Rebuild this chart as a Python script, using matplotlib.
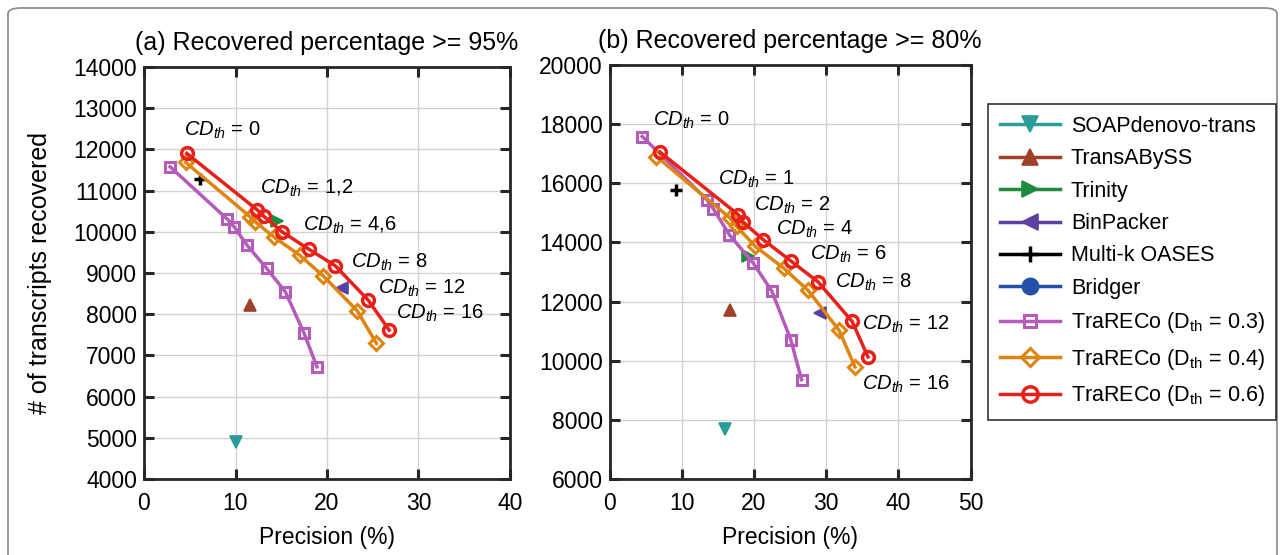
import numpy as np
import matplotlib.pyplot as plt
from matplotlib.patches import FancyBboxPatch

plt.rcParams['font.family'] = ['Liberation Sans', 'DejaVu Sans']
plt.rcParams['mathtext.fontset'] = 'custom'
plt.rcParams['mathtext.rm'] = 'Liberation Sans'
plt.rcParams['mathtext.it'] = 'Liberation Sans:italic'

# ---- data (a) recovered >= 95%
a_prec_03 = [2.85, 9.1, 9.85, 11.25, 13.4, 15.45, 17.5, 18.9]
a_rec_03 = [11578, 10308, 10122, 9677, 9112, 8544, 7534, 6723]
a_prec_04 = [4.56, 11.6, 12.16, 14.16, 17.0, 19.57, 23.3, 25.4]
a_rec_04 = [11684, 10364, 10243, 9879, 9434, 8932, 8083, 7291]
a_prec_06 = [4.67, 12.4, 13.07, 15.08, 18.0, 20.9, 24.5, 26.8]
a_rec_06 = [11903, 10527, 10381, 10000, 9580, 9175, 8342, 7614]
a_others = {'SOAPdenovo-trans': (10.0, 4910), 'TransABySS': (11.6, 8221),
            'Trinity': (14.5, 10267), 'BinPacker': (21.6, 8641),
            'Multi-k OASES': (6.1, 11272), 'Bridger': (np.nan, np.nan)}

# ---- data (b) recovered >= 80%
b_prec_03 = [4.54, 13.5, 14.4, 16.6, 19.9, 22.5, 25.1, 26.6]
b_rec_03 = [17581, 15443, 15128, 14260, 13304, 12345, 10713, 9361]
b_prec_04 = [6.5, 16.7, 17.6, 20.2, 24.1, 27.5, 31.8, 34.0]
b_rec_04 = [16905, 14824, 14541, 13865, 13135, 12378, 11027, 9790]
b_prec_06 = [7.0, 17.85, 18.5, 21.3, 25.2, 28.9, 33.6, 35.8]
b_rec_06 = [17054, 14936, 14689, 14091, 13358, 12662, 11331, 10128]
b_others = {'SOAPdenovo-trans': (16.0, 7680), 'TransABySS': (16.7, 11720),
            'Trinity': (19.2, 13527), 'BinPacker': (29.2, 11615),
            'Multi-k OASES': (9.2, 15781), 'Bridger': (np.nan, np.nan)}

a_labels = ['0', '1,2', '4,6', '8', '12', '16']
a_lab_x = [4.4, 12.7, 17.4, 22.6, 25.6, 27.5]
a_lab_y = [12470, 11050, 10160, 9260, 8630, 8020]
b_labels = ['0', '1', '2', '4', '6', '8', '12', '16']
b_lab_x = [6.0, 15.0, 20.0, 23.1, 27.8, 31.2, 35.0, 35.0]
b_lab_y = [18140, 16120, 15270, 14430, 13580, 12640, 11220, 9190]

styles = {
    'SOAPdenovo-trans': dict(color='#2a9d9a', marker='v'),
    'TransABySS': dict(color='#a0402a', marker='^'),
    'Trinity': dict(color='#1e8a3e', marker='>'),
    'BinPacker': dict(color='#5b3fa3', marker='<'),
    'Multi-k OASES': dict(color='black', marker='+'),
    'Bridger': dict(color='#2350a8', marker='o'),
}
c03, c04, c06 = '#b35cba', '#de8410', '#e8201a'

fig = plt.figure(figsize=(12.85, 5.55), dpi=100)
fig.patches.append(FancyBboxPatch((8/1285, -0.05), 1269/1285, 1.0 - 8/555 + 0.05,
                                  boxstyle='round,pad=0,rounding_size=0.01',
                                  transform=fig.transFigure, fill=False,
                                  ec='#888888', lw=1.2))
ax1 = fig.add_axes([144/1285, 1-479/555, 366/1285, 412/555])
ax2 = fig.add_axes([609.5/1285, 1-479/555, 361/1285, 414/555])


def draw(ax, others, p03, r03, p04, r04, p06, r06, labs, lx, ly):
    for name, (px, py) in others.items():
        st = styles[name]
        ms = 9 if st['marker'] == '+' else 9
        mew = 2.5 if st['marker'] == '+' else 1.2
        ax.plot([px], [py], ls='-', lw=2.5, color=st['color'], marker=st['marker'],
                ms=ms, mew=mew, mec=st['color'], mfc=st['color'], label=name)
    ax.plot(p03, r03, '-s', color=c03, lw=2.5, ms=7, mfc='none', mew=2.2,
            label='TraRECo (D$_{\\mathrm{th}}$ = 0.3)')
    ax.plot(p04, r04, '-D', color=c04, lw=2.5, ms=7, mfc='none', mew=2.2,
            label='TraRECo (D$_{\\mathrm{th}}$ = 0.4)')
    ax.plot(p06, r06, '-o', color=c06, lw=2.5, ms=8.5, mfc='none', mew=2.5,
            label='TraRECo (D$_{\\mathrm{th}}$ = 0.6)')
    for t, x, y in zip(labs, lx, ly):
        ax.text(x, y, '$CD_{th}$ = ' + t, fontsize=14.5, va='center', ha='left')
    ax.grid(True, color='#d8cfcf', lw=1)
    ax.set_axisbelow(True)
    ax.tick_params(direction='in', top=True, right=True, labelsize=16.5,
                   width=2.2, length=7, color='#262626')
    ax.tick_params(axis='x', pad=9)
    ax.tick_params(axis='y', pad=5)
    for s in ax.spines.values():
        s.set_linewidth(2)
        s.set_color('#262626')
    ax.set_xlabel('Precision (%)', fontsize=16.5, labelpad=8)


draw(ax1, a_others, a_prec_03, a_rec_03, a_prec_04, a_rec_04, a_prec_06, a_rec_06,
     a_labels, a_lab_x, a_lab_y)
draw(ax2, b_others, b_prec_03, b_rec_03, b_prec_04, b_rec_04, b_prec_06, b_rec_06,
     b_labels, b_lab_x, b_lab_y)

ax1.set_xlim(0, 40)
ax1.set_ylim(4000, 14000)
ax1.set_xticks(np.arange(0, 41, 10))
ax1.set_yticks(np.arange(4000, 14001, 1000))
ax1.set_ylabel('# of transcripts recovered', fontsize=18, labelpad=15)
ax1.set_title('(a) Recovered percentage >= 95%', fontsize=18, pad=12)

ax2.set_xlim(0, 50)
ax2.set_ylim(6000, 20000)
ax2.set_xticks(np.arange(0, 51, 10))
ax2.set_yticks(np.arange(6000, 20001, 2000))
ax2.set_title('(b) Recovered percentage >= 80%', fontsize=18, pad=12)

h, l = ax1.get_legend_handles_labels()
leg = fig.legend(h, l, loc='upper left', bbox_to_anchor=(988/1285, 1-104/555),
                 fontsize=15.5, frameon=True, fancybox=False, edgecolor='black',
                 handlelength=2.8, handletextpad=0.5, labelspacing=0.53,
                 borderpad=0.55, borderaxespad=0, markerscale=1.3)
leg.get_frame().set_linewidth(1.2)

fig.savefig('out.png', dpi=100)
